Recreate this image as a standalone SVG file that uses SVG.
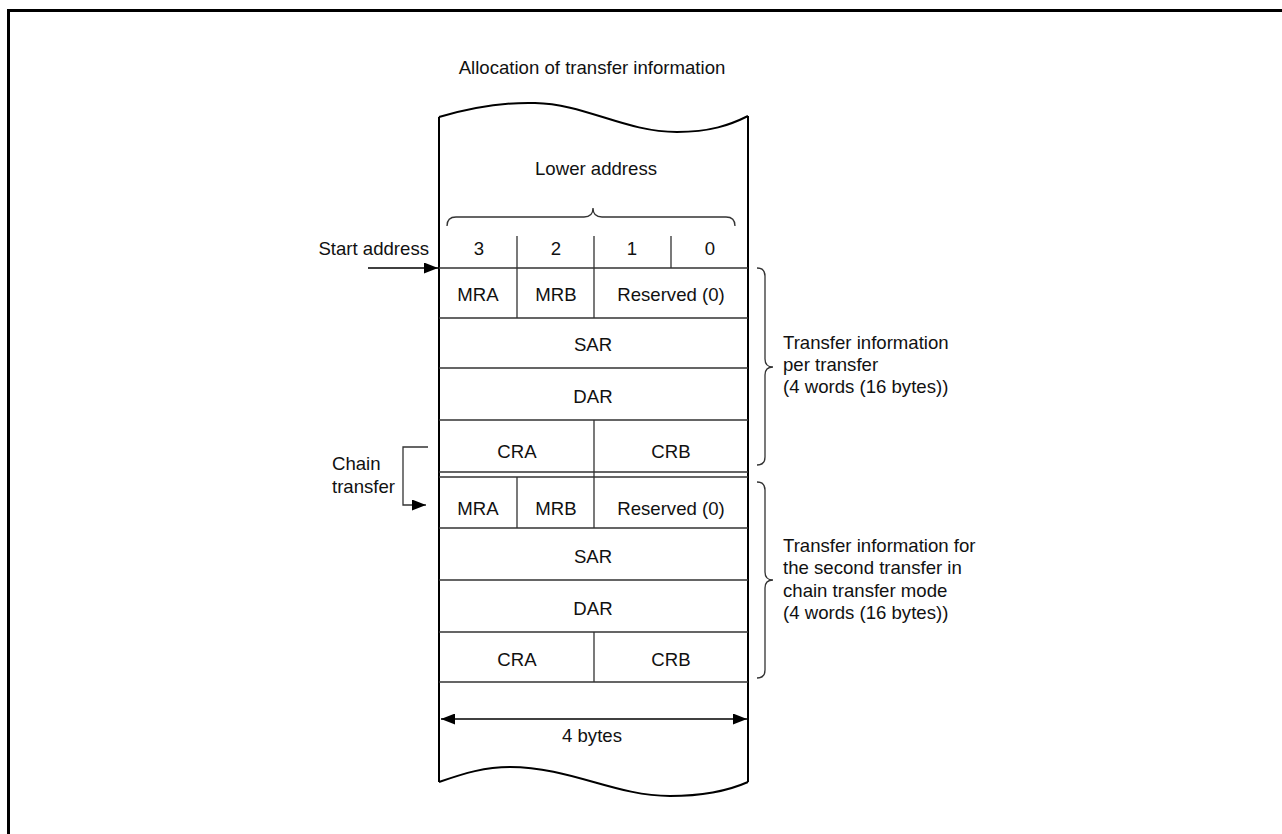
<svg xmlns="http://www.w3.org/2000/svg" width="1282" height="834" viewBox="0 0 1282 834">
<defs>
<style>
text{font-family:"Liberation Sans",Arial,sans-serif;font-size:18.6px;fill:#111}
.c{text-anchor:middle}
.e{text-anchor:end}
.ln{stroke:#333;stroke-width:1.3;fill:none}
.edge{stroke:#000;stroke-width:2;fill:none}
.br{stroke:#333;stroke-width:1.3;fill:none}
</style>
<marker id="ah" viewBox="0 0 14 11" refX="14" refY="5.5" markerWidth="14" markerHeight="11" markerUnits="userSpaceOnUse" orient="auto-start-reverse">
<path d="M0,0 L14,5.5 L0,11 Z" fill="#000"/>
</marker>
</defs>
<rect width="1282" height="834" fill="#fff"/>
<path d="M8.5,834 V10.5 H1282" stroke="#000" stroke-width="3" fill="none"/>
<text class="c" x="592" y="74">Allocation of transfer information</text>

<g id="column">
<path class="edge" d="M439,117 C470,108 500,102 535,103 C585,104 625,132 677,132 C710,132 730,125 748,116"/>
<path class="edge" d="M439,782 C465,773 485,767 510,767 C570,767 615,796 670,796 C705,796 730,790 748,782"/>
<path class="edge" d="M439,117 V782 M748,116 V782"/>
<text class="c" x="596" y="175">Lower address</text>
<path class="br" d="M447,226 Q447,217 456,217 H584 Q593,217 593,208 Q593,217 602,217 H726 Q735,217 735,226"/>
</g>

<g id="header">
<path class="ln" d="M517,236 V268 M594,236 V268 M671,236 V268"/>
<text class="c" x="479" y="255">3</text>
<text class="c" x="556" y="255">2</text>
<text class="c" x="632" y="255">1</text>
<text class="c" x="710" y="255">0</text>
</g>

<g id="block1">
<path class="ln" d="M439,268 H748 M439,318 H748 M439,368 H748 M439,420 H748 M439,472 H748"/>
<path class="ln" d="M517,268 V318 M594,268 V318 M594,420 V472"/>
<text class="c" x="478" y="301">MRA</text>
<text class="c" x="556" y="301">MRB</text>
<text class="c" x="671" y="301">Reserved (0)</text>
<text class="c" x="593" y="351">SAR</text>
<text class="c" x="593" y="403">DAR</text>
<text class="c" x="517" y="458">CRA</text>
<text class="c" x="671" y="458">CRB</text>
</g>

<g id="block2">
<path class="ln" d="M439,477 H748 M439,528 H748 M439,580 H748 M439,632 H748 M439,682 H748"/>
<path class="ln" d="M594,472 V477 M517,477 V528 M594,477 V528 M594,632 V682"/>
<text class="c" x="478" y="515">MRA</text>
<text class="c" x="556" y="515">MRB</text>
<text class="c" x="671" y="515">Reserved (0)</text>
<text class="c" x="593" y="563">SAR</text>
<text class="c" x="593" y="615">DAR</text>
<text class="c" x="517" y="666">CRA</text>
<text class="c" x="671" y="666">CRB</text>
</g>

<g id="start-address">
<text class="e" x="429" y="255">Start address</text>
</g>

<g id="chain-transfer">
<text x="332" y="470">Chain</text>
<text x="332" y="493">transfer</text>
</g>

<g id="info1">
<path class="br" d="M757,268 Q765,268 765,276 V359 Q765,367 773,367 Q765,367 765,375 V457 Q765,465 757,465"/>
<text x="783" y="349">Transfer information</text>
<text x="783" y="371">per transfer</text>
<text x="783" y="393">(4 words (16 bytes))</text>
</g>

<g id="info2">
<path class="br" d="M757,482 Q765,482 765,490 V572 Q765,580 773,580 Q765,580 765,588 V670 Q765,678 757,678"/>
<text x="783" y="552">Transfer information for</text>
<text x="783" y="574">the second transfer in</text>
<text x="783" y="597">chain transfer mode</text>
<text x="783" y="619">(4 words (16 bytes))</text>
</g>

<g id="width">
<text class="c" x="592" y="742">4 bytes</text>
</g>

<g id="connectors">
<path d="M368,268 H438" stroke="#000" stroke-width="1.3" fill="none" marker-end="url(#ah)"/>
<path d="M428,447 H403 V505 H426" stroke="#333" stroke-width="1.3" fill="none" marker-end="url(#ah)"/>
<path d="M441,719 H747" stroke="#000" stroke-width="1.5" fill="none" marker-start="url(#ah)" marker-end="url(#ah)"/>
</g>
</svg>
